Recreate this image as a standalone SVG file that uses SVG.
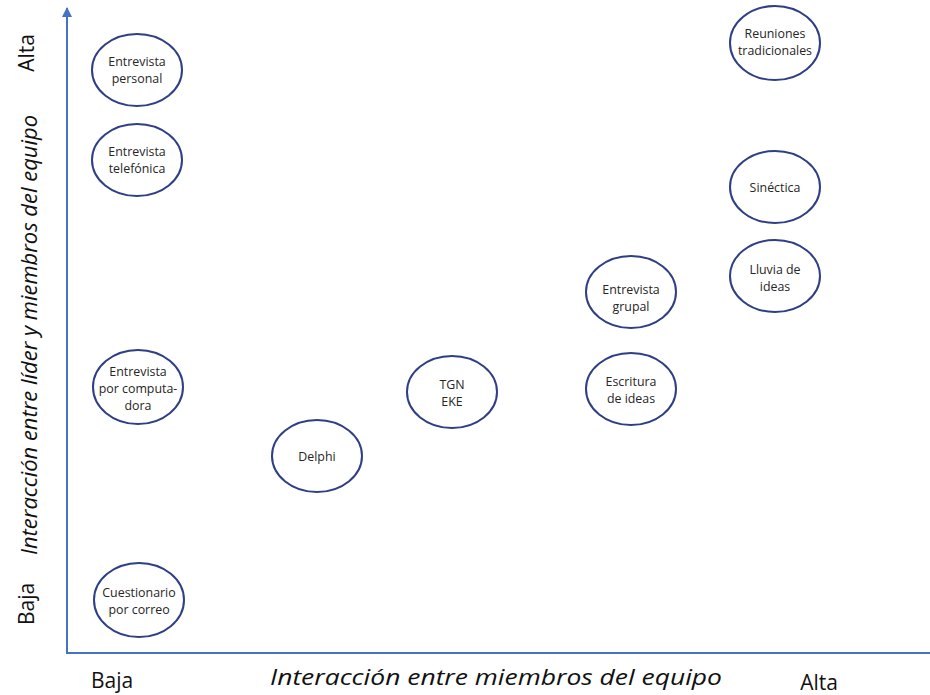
<svg xmlns="http://www.w3.org/2000/svg" width="930" height="695" viewBox="0 0 930 695">
  <style>
    .axis { stroke: #4472C4; stroke-width: 2; fill: none; }
    .node ellipse { fill: #FFFFFF; stroke: #2E3F85; stroke-width: 2; }
    .node text { font-family: "Open Sans", "Liberation Sans", sans-serif; font-size: 12.4px; fill: #262626; text-anchor: middle; }
    .tick { font-family: "Open Sans", "Liberation Sans", sans-serif; font-size: 21px; fill: #111111; text-anchor: middle; }
    .title { font-family: "Open Sans", "Liberation Sans", sans-serif; font-size: 22px; font-style: italic; fill: #111111; text-anchor: middle; }
  </style>
  <defs>
    <marker id="arrow" viewBox="0 0 10 10" refX="9" refY="5" markerWidth="5" markerHeight="5" orient="auto">
      <path d="M0,0 L10,5 L0,10 z" fill="#4472C4"/>
    </marker>
  </defs>
  <rect width="930" height="695" fill="#FFFFFF"/>

  <!-- axes -->
  <g id="connectors">
    <line class="axis" x1="67" y1="653" x2="67" y2="8" marker-end="url(#arrow)"/>
    <line class="axis" x1="66" y1="653" x2="930" y2="653"/>
  </g>

  <!-- axis labels -->
  <text class="tick" transform="translate(34,53) rotate(-90)">Alta</text>
  <text class="tick" transform="translate(34,604) rotate(-90)">Baja</text>
  <text class="title" transform="translate(37,335) rotate(-90)" textLength="440" lengthAdjust="spacingAndGlyphs">Interacción entre líder y miembros del equipo</text>
  <text class="tick" x="112" y="688">Baja</text>
  <text class="tick" x="819" y="690">Alta</text>
  <text class="title" x="496" y="685" textLength="452" lengthAdjust="spacingAndGlyphs">Interacción entre miembros del equipo</text>

  <!-- nodes -->
  <g id="entrevista-personal" class="node">
    <ellipse cx="137" cy="70" rx="45" ry="36"/>
    <text x="137" y="66">Entrevista</text>
    <text x="137" y="83">personal</text>
  </g>
  <g id="entrevista-telefonica" class="node">
    <ellipse cx="137" cy="160" rx="45" ry="36"/>
    <text x="137" y="156">Entrevista</text>
    <text x="137" y="173">telefónica</text>
  </g>
  <g id="entrevista-computadora" class="node">
    <ellipse cx="138" cy="387" rx="45" ry="37"/>
    <text x="138" y="376">Entrevista</text>
    <text x="138" y="393">por computa-</text>
    <text x="138" y="410">dora</text>
  </g>
  <g id="cuestionario-correo" class="node">
    <ellipse cx="139" cy="600" rx="45" ry="37"/>
    <text x="139" y="597">Cuestionario</text>
    <text x="139" y="614">por correo</text>
  </g>
  <g id="delphi" class="node">
    <ellipse cx="317" cy="456" rx="45" ry="36"/>
    <text x="317" y="461">Delphi</text>
  </g>
  <g id="tgn-eke" class="node">
    <ellipse cx="452" cy="392" rx="45" ry="36"/>
    <text x="452" y="389">TGN</text>
    <text x="452" y="406">EKE</text>
  </g>
  <g id="entrevista-grupal" class="node">
    <ellipse cx="631" cy="292" rx="45" ry="36"/>
    <text x="631" y="294">Entrevista</text>
    <text x="631" y="311">grupal</text>
  </g>
  <g id="escritura-ideas" class="node">
    <ellipse cx="631" cy="389" rx="45" ry="36"/>
    <text x="631" y="386">Escritura</text>
    <text x="631" y="403">de ideas</text>
  </g>
  <g id="reuniones-tradicionales" class="node">
    <ellipse cx="775" cy="43" rx="45" ry="37"/>
    <text x="775" y="38">Reuniones</text>
    <text x="775" y="55">tradicionales</text>
  </g>
  <g id="sinectica" class="node">
    <ellipse cx="775" cy="187" rx="45" ry="36"/>
    <text x="775" y="192">Sinéctica</text>
  </g>
  <g id="lluvia-ideas" class="node">
    <ellipse cx="775" cy="276" rx="45" ry="36"/>
    <text x="775" y="274">Lluvia de</text>
    <text x="775" y="291">ideas</text>
  </g>
</svg>
